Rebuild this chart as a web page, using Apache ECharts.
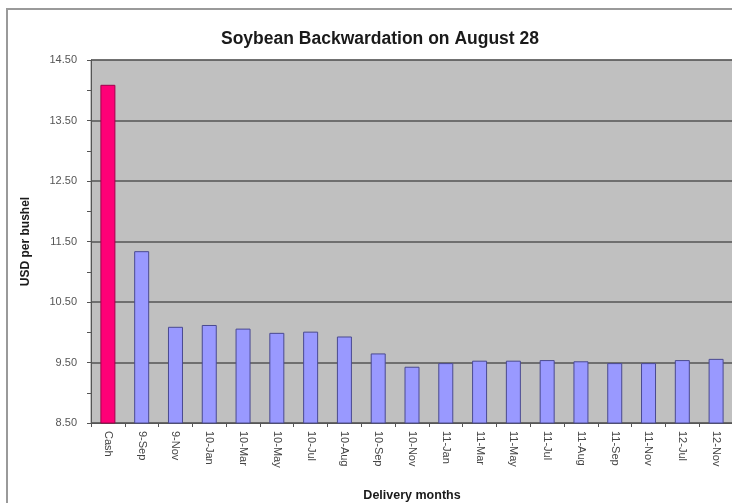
<!DOCTYPE html>
<html>
<head>
<meta charset="utf-8">
<script src="https://cdn.jsdelivr.net/npm/echarts@6/dist/echarts.min.js"></script>
<style>
  html, body { margin: 0; padding: 0; background: #ffffff; }
  #chart { width: 732px; height: 503px; }
</style>
</head>
<body>
<div id="chart"></div>
<script>
// Soybean prices by delivery month (USD per bushel)
const months = ['Cash', '9-Sep', '9-Nov', '10-Jan', '10-Mar', '10-May', '10-Jul', '10-Aug', '10-Sep',
  '10-Nov', '11-Jan', '11-Mar', '11-May', '11-Jul', '11-Aug', '11-Sep', '11-Nov', '12-Jul', '12-Nov'];
const prices = [14.09, 11.34, 10.09, 10.12, 10.06, 9.99, 10.01, 9.93, 9.65,
  9.43, 9.49, 9.53, 9.53, 9.54, 9.52, 9.49, 9.49, 9.54, 9.56];
const yMin = 8.5;
const yMax = 14.5;
const yStep = 1;

const font = 'Liberation Sans, Arial, sans-serif';
const chart = echarts.init(document.getElementById('chart'));

chart.setOption({
  backgroundColor: '#ffffff',
  animation: false,
  graphic: [{
    type: 'rect',
    shape: { x: 7, y: 9, width: 760, height: 520 },
    style: { fill: 'none', stroke: '#9a9a9a', lineWidth: 2 },
    silent: true,
    z: 0
  }],
  title: {
    text: 'Soybean Backwardation on August 28',
    left: 375,
    textAlign: 'center',
    top: 25,
    textStyle: { fontFamily: font, fontSize: 17.5, fontWeight: 'bold', color: '#1a1a1a' }
  },
  grid: {
    left: 91, right: -1, top: 60, bottom: 80,
    outerBoundsMode: 'none',
    containLabel: false,
    show: true,
    backgroundColor: '#c0c0c0',
    borderColor: '#8a8a8a',
    borderWidth: 1
  },
  xAxis: {
    type: 'category',
    data: months,
    name: 'Delivery months',
    nameLocation: 'middle',
    nameGap: 66,
    nameTextStyle: { fontFamily: font, fontSize: 12.5, fontWeight: 'bold', color: '#1a1a1a' },
    axisLine: { lineStyle: { color: '#555', width: 1 } },
    axisTick: { show: true, alignWithLabel: false, length: 4, inside: false, lineStyle: { color: '#555' } },
    axisLabel: { rotate: -90, margin: 8, fontFamily: font, fontSize: 11, color: '#444' },
    splitLine: { show: false }
  },
  yAxis: {
    type: 'value',
    min: yMin,
    max: yMax,
    interval: yStep,
    name: 'USD per bushel',
    nameLocation: 'middle',
    nameGap: 59,
    nameTextStyle: { fontFamily: font, fontSize: 12, fontWeight: 'bold', color: '#1a1a1a' },
    axisLine: { show: true, lineStyle: { color: '#555', width: 1 } },
    axisTick: { show: true, length: 4, lineStyle: { color: '#555' } },
    minorTick: { show: true, splitNumber: 2, length: 4, lineStyle: { color: '#555' } },
    axisLabel: {
      margin: 14, fontFamily: font, fontSize: 11, color: '#555',
      formatter: v => v.toFixed(2)
    },
    splitLine: { show: true, lineStyle: { color: '#555555', width: 1.5 } }
  },
  series: [{
    type: 'bar',
    data: prices.map((v, i) => ({
      value: v,
      itemStyle: i === 0
        ? { color: '#ff0077', borderColor: '#a0004a', borderWidth: 1 }
        : { color: '#9999ff', borderColor: '#4a4a90', borderWidth: 1 }
    })),
    barWidth: 15,
    z: 3
  }]
});
</script>
</body>
</html>
